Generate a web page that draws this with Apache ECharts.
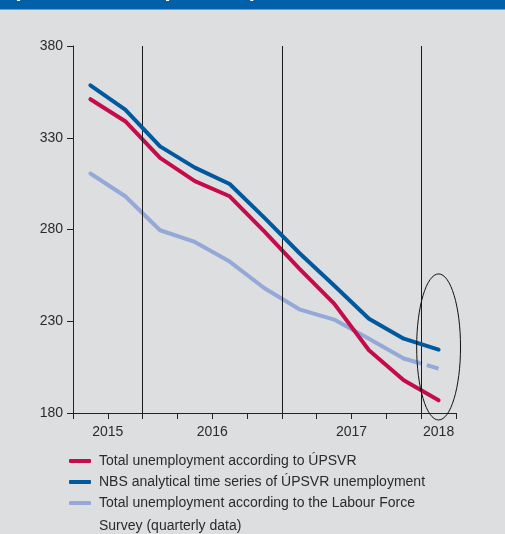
<!DOCTYPE html>
<html><head><meta charset="utf-8">
<script src="https://cdn.jsdelivr.net/npm/echarts@6/dist/echarts.min.js"></script>
<style>html,body{margin:0;padding:0;background:#DDDEE0;}#c{width:505px;height:534px;}</style>
</head><body><div id="c"></div>
<script>
const titleText = '(thousands of persons)';
const seriesNames = [
  'Total unemployment according to ÚPSVR',
  'NBS analytical time series of ÚPSVR unemployment',
  'Total unemployment according to the Labour Force Survey (quarterly data)'
];
const periods = [0.5, 1.5, 2.5, 3.5, 4.5, 5.5, 6.5, 7.5, 8.5, 9.5, 10.5];
const upsvr = [351, 339, 319, 306.4, 298.1, 278.8, 258.7, 239.6, 214.2, 197.8, 186.9];
const nbs = [358.6, 345.3, 325.3, 313.7, 304.8, 286.3, 267.2, 249.5, 231.4, 220.5, 214.5];
const lfs = [310.5, 298.1, 279.6, 273.2, 262.5, 248, 236.5, 230.9, 220.5, 209.7, 204.2];
const yearLabels = ['2015', '2016', '2017', '2018'];
const yearAt = [1, 4, 8, 10.5];
const dividers = [2, 6, 10];
const yTicks = [180, 230, 280, 330, 380];

const pairs = arr => arr.map((v, i) => [periods[i], v]);
const font = 'Liberation Sans, Arial, sans-serif';
const txt = '#2b2b2b';
const axisCol = '#222222';

const chart = echarts.init(document.getElementById('c'), null, {renderer: 'canvas'});
const lfsPairs = pairs(lfs);
const option = {
  backgroundColor: '#DDDEE0',
  animation: false,
  grid: {left: 73, right: 49, top: 46, bottom: 121, containLabel: false},
  xAxis: [{
    type: 'value', min: 0, max: 11, interval: 1,
    axisLine: {show: true, lineStyle: {color: axisCol, width: 1}},
    axisTick: {show: true, length: 6, lineStyle: {color: axisCol}},
    axisLabel: {show: false},
    splitLine: {show: false}
  }, {
    type: 'value', min: 0, max: 11, interval: 0.5, position: 'bottom',
    axisLine: {show: false}, axisTick: {show: false}, splitLine: {show: false},
    axisLabel: {
      show: true, margin: 12, fontSize: 14, fontFamily: font, color: txt,
      formatter: v => { const k = yearAt.indexOf(v); return k >= 0 ? yearLabels[k] : ''; }
    }
  }],
  yAxis: {
    type: 'value', min: yTicks[0], max: yTicks[yTicks.length - 1], interval: 50,
    axisLine: {show: true, lineStyle: {color: axisCol, width: 1}},
    axisTick: {show: true, length: 6, lineStyle: {color: axisCol}},
    axisLabel: {margin: 10, fontSize: 14, fontFamily: font, color: txt},
    splitLine: {show: false}
  },
  legend: {
    orient: 'vertical', left: 69, top: 451, padding: 0, itemGap: 1,
    itemWidth: 22, itemHeight: 4, icon: 'roundRect',
    data: seriesNames,
    formatter: n => n === seriesNames[2] ? 'Total unemployment according to the Labour Force' : n,
    textStyle: {fontSize: 14, fontFamily: font, color: txt, lineHeight: 20, padding: [0, 0, 0, 3]}
  },
  series: [
    {
      type: 'line', data: [], z: 1, silent: true,
      markLine: {
        silent: true, symbol: 'none', label: {show: false},
        lineStyle: {color: '#1a1a1a', width: 1, type: 'solid'},
        data: dividers.map(d => ({xAxis: d}))
      }
    },
    {name: seriesNames[2], type: 'line', data: lfsPairs.slice(0, 10), showSymbol: false, z: 3,
     color: '#94A9D7', lineStyle: {width: 4, color: '#94A9D7', cap: 'round', join: 'round'}},
    {name: seriesNames[2], type: 'line', data: lfsPairs.slice(9), showSymbol: false, z: 3,
     color: '#94A9D7', lineStyle: {width: 4, color: '#94A9D7', type: [19, 5], join: 'round'}},
    {name: seriesNames[0], type: 'line', data: pairs(upsvr), showSymbol: false, z: 4,
     color: '#C50C4B', lineStyle: {width: 4, color: '#C50C4B', cap: 'round', join: 'round'}},
    {name: seriesNames[1], type: 'line', data: pairs(nbs), showSymbol: false, z: 5,
     color: '#00599F', lineStyle: {width: 4, color: '#00599F', cap: 'round', join: 'round'}}
  ],
  graphic: [
    {type: 'rect', id: 'band', shape: {x: 0, y: 0, width: 505, height: 9.5}, style: {fill: '#0061AA'}, z: 10},
    {type: 'text', id: 'title', x: 13, y: -10.5, z: 11,
     style: {text: titleText, font: 'bold 22px ' + font, fill: '#ffffff', verticalAlign: 'middle'}},
    {type: 'text', id: 'wrap', x: 99, y: 526, z: 11,
     style: {text: 'Survey (quarterly data)', font: '14px ' + font, fill: txt, verticalAlign: 'middle'}}
  ]
};
chart.setOption(option);

// circle annotation around the last observation
const c = chart.convertToPixel({xAxisIndex: 0, yAxisIndex: 0}, [periods[10], 216]);
const e = chart.convertToPixel({xAxisIndex: 0, yAxisIndex: 0}, [periods[10] + 0.63, 216 + 39.8]);
chart.setOption({graphic: [
  {type: 'ellipse', id: 'ring', z: 12,
   shape: {cx: c[0], cy: c[1], rx: Math.abs(e[0] - c[0]), ry: Math.abs(c[1] - e[1])},
   style: {fill: 'none', stroke: '#111111', lineWidth: 1}}
]});
</script></body></html>
